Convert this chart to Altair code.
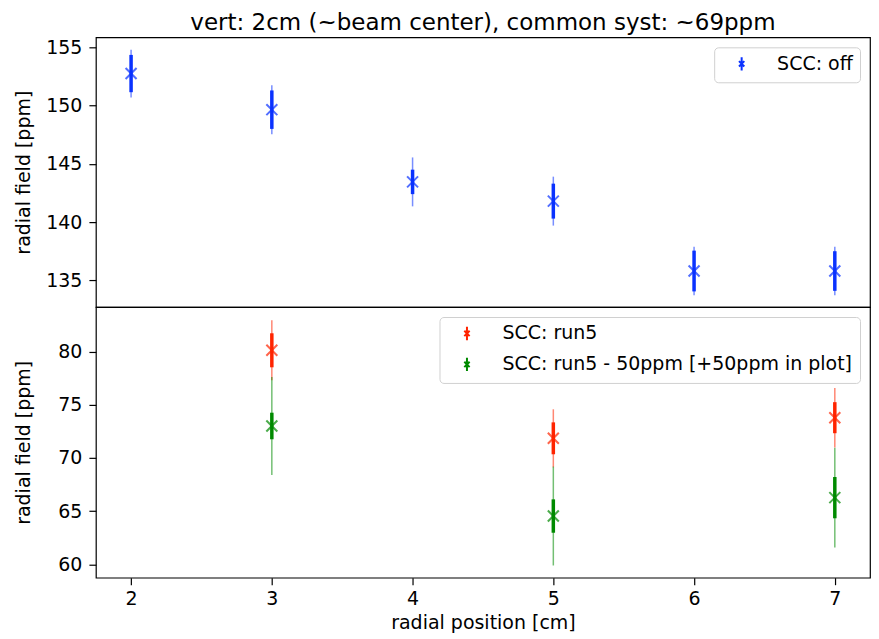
import altair as alt
import pandas as pd

# ---- data ----
x_top = [2, 3, 4, 5, 6, 7]
off_val = [152.75, 149.65, 143.45, 141.8, 135.8, 135.8]
off_stat = [1.6, 1.65, 1.05, 1.5, 1.75, 1.7]
off_tot = [2.05, 2.1, 2.1, 2.1, 2.08, 2.08]

x_bot = [3, 5, 7]
run5_val = [80.13, 71.85, 73.79]
run5_stat = [1.6, 1.5, 1.46]
run5_tot = [2.82, 2.73, 2.8]
sub_val = [73.01, 64.54, 66.27]
sub_stat = [1.25, 1.57, 1.94]
sub_tot = [4.6, 4.65, 4.7]

labels_top = ["SCC: off"]
labels_bot = ["SCC: run5", "SCC: run5 - 50ppm [+50ppm in plot]"]
colors_top = ["#0a32ff"]
colors_bot = ["#ff2400", "#008a00"]

ticks_top = [135, 140, 145, 150, 155]
ticks_bot = [60, 65, 70, 75, 80]
ticks_x = [2, 3, 4, 5, 6, 7]


def rows(xs, vals, stat, tot, label):
    out = []
    for x, v, s, t in zip(xs, vals, stat, tot):
        out.append(dict(x=x, y=v, lo_s=v - s, hi_s=v + s, lo_t=v - t, hi_t=v + t, series=label))
    return out


df_top = pd.DataFrame(rows(x_top, off_val, off_stat, off_tot, labels_top[0]))
df_bot = pd.DataFrame(
    rows(x_bot, run5_val, run5_stat, run5_tot, labels_bot[0])
    + rows(x_bot, sub_val, sub_stat, sub_tot, labels_bot[1])
)

XPATH = "M-1,-1L1,1M-1,1L1,-1"
LEGPATH = "M0,-0.95L0,0.95M-0.38,-0.38L0.38,0.38M-0.38,0.38L0.38,-0.38"

W = 775
xscale = alt.Scale(domain=[1.75, 7.25], nice=False, zero=False)


def panel(df, labels, colors, ydom, yticks, show_x, height, title=None):
    color_bar = alt.Color(
        "series:N",
        scale=alt.Scale(domain=labels, range=colors),
        legend=alt.Legend(
            title=None, orient="top-right", offset=10, symbolType=LEGPATH,
            symbolOpacity=1, symbolStrokeWidth=2, symbolSize=196,
            symbolOffset=11, labelOffset=26, rowPadding=8, padding=7,
        ),
    )
    if show_x:
        xaxis = alt.Axis(values=ticks_x, format="d", title="radial position [cm]")
    else:
        xaxis = None
    yscale = alt.Scale(domain=ydom, nice=False, zero=False)
    base = alt.Chart(df)
    thin = base.mark_rule(strokeWidth=1.5, opacity=0.55).encode(
        x=alt.X("x:Q", scale=xscale, axis=xaxis),
        y=alt.Y("lo_t:Q", scale=yscale, axis=alt.Axis(values=yticks, title="radial field [ppm]")),
        y2="hi_t:Q",
        color=color_bar,
    )
    thick = base.mark_rule(strokeWidth=3.5).encode(
        x="x:Q", y="lo_s:Q", y2="hi_s:Q", color=color_bar
    )
    pts = base.mark_point(shape=XPATH, size=121, filled=False, strokeWidth=2).encode(
        x="x:Q", y="y:Q", color=color_bar
    )
    props = dict(width=W, height=height)
    if title is not None:
        props["title"] = alt.Title(title, anchor="middle", frame="group", offset=2)
    return alt.layer(thin, thick, pts).properties(**props)


top = panel(df_top, labels_top, colors_top, [132.71, 155.86], ticks_top, False, 270,
            title="vert: 2cm (~beam center), common syst: ~69ppm")
bot = panel(df_bot, labels_bot, colors_bot, [58.74, 84.2], ticks_bot, True, 271)

chart = (
    alt.vconcat(top, bot, spacing=0, bounds="flush")
    .resolve_scale(color="independent")
    .properties(padding={"left": 6, "top": 3, "right": 0, "bottom": 0})
    .configure_axis(
        labelFont="DejaVu Sans", labelFontSize=19, labelColor="black",
        titleFont="DejaVu Sans", titleFontSize=19, titleFontWeight="normal", titleColor="black",
        tickColor="black", tickSize=7, tickWidth=1.2, domain=False, grid=False, labelPadding=7,
    )
    .configure_axisY(titlePadding=11, minExtent=51, maxExtent=51)
    .configure_axisX(titlePadding=5, labelPadding=5)
    .configure_view(stroke="black", strokeWidth=1.2)
    .configure_legend(
        labelFont="DejaVu Sans", labelFontSize=19, labelColor="black", labelLimit=600,
        strokeColor="#d0d0d0", fillColor="white", cornerRadius=4,
    )
    .configure_title(font="DejaVu Sans", fontSize=23, fontWeight="normal", color="black")
)

chart.save("out.html", embed_options={"renderer": "svg", "actions": False})
